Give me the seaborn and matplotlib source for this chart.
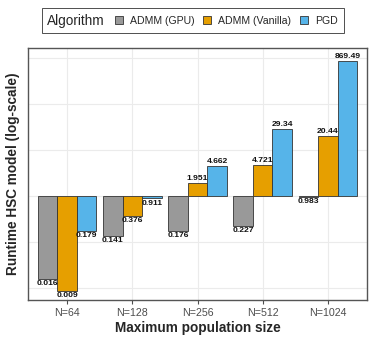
import numpy as np
import pandas as pd
import seaborn as sns
import matplotlib.pyplot as plt
from matplotlib.patches import Patch
from matplotlib.offsetbox import HPacker

# valores (tempo de execucao)
sizes = ["N=64", "N=128", "N=256", "N=512", "N=1024"]
algos = ["ADMM (GPU)", "ADMM (Vanilla)", "PGD"]
admm_gpu = [0.016, 0.141, 0.176, 0.227, 0.983]
admm_vanilla = [0.009, 0.376, 1.951, 4.721, 20.44]
pgd = [0.179, 0.911, 4.662, 29.34, 869.49]
labels_gpu = ["0.016", "0.141", "0.176", "0.227", "0.983"]
labels_vanilla = ["0.009", "0.376", "1.951", "4.721", "20.44"]
labels_pgd = ["0.179", "0.911", "4.662", "29.34", "869.49"]
cores = ["#999999", "#E69F00", "#56B4E9"]

linhas = []
for alg, vals, labs in zip(algos, [admm_gpu, admm_vanilla, pgd],
                           [labels_gpu, labels_vanilla, labels_pgd]):
    for s, v, l in zip(sizes, vals, labs):
        linhas.append([s, alg, v, l])
df = pd.DataFrame(linhas, columns=["Tamanho", "Algorithm", "Tempo", "Rotulo"])
df["LogTempo"] = np.log10(df["Tempo"])

sns.set_style("white")
plt.rcParams['font.family'] = ['Liberation Sans', 'DejaVu Sans']

fig = plt.figure(figsize=(3.74, 3.43), dpi=100)
ax = fig.add_axes([0.0749, 0.1254, 0.9064, 0.7346])

# grade (decadas no eixo log)
for g in range(-2, 4):
    ax.axhline(g, color="#EBEBEB", lw=0.8, zorder=0)
for i in range(len(sizes)):
    ax.axvline(i, color="#EBEBEB", lw=0.8, zorder=0)

sns.barplot(data=df, x="Tamanho", y="LogTempo", hue="Algorithm",
            order=sizes, hue_order=algos, palette=cores, width=0.9,
            edgecolor="#333333", linewidth=0.6, saturation=1,
            legend=False, ax=ax, zorder=2)

# rotulos de valor
larg = 0.3
for j, alg in enumerate(algos):
    sub = df[df["Algorithm"] == alg]
    for i, s in enumerate(sizes):
        row = sub[sub["Tamanho"] == s].iloc[0]
        xpos = i - 0.3 + j * larg
        lv = row["LogTempo"]
        if lv >= 0:
            ax.text(xpos, lv + 0.02, row["Rotulo"], ha="center", va="bottom",
                    fontsize=6.1, fontweight="bold", color="#111111", zorder=3)
        else:
            ax.text(xpos, lv - 0.03, row["Rotulo"], ha="center", va="top",
                    fontsize=6.1, fontweight="bold", color="#111111", zorder=3)

ax.set_xlim(-0.6, 4.6)
ax.set_ylim(-2.25, 3.22)
ax.set_yticks([])
ax.tick_params(axis="x", length=3, color="#4D4D4D", width=0.8, pad=3,
               labelsize=7.7, labelcolor="#4D4D4D", bottom=True)
ax.set_xlabel("Maximum population size", fontsize=9.8, fontweight="bold",
              labelpad=2)
ax.set_ylabel("Runtime HSC model (log-scale)", fontsize=9.8,
              fontweight="bold", labelpad=6)
for sp in ax.spines.values():
    sp.set_color("#555555")
    sp.set_linewidth(1.0)

# legenda horizontal com titulo na mesma linha
handles = [Patch(facecolor=c, edgecolor="#333333", linewidth=0.6) for c in cores]
leg = fig.legend(handles, algos, title="Algorithm", ncol=3,
                 loc="center", bbox_to_anchor=(0.515, 0.940),
                 fontsize=7.6, title_fontsize=9.8, frameon=True,
                 fancybox=False, edgecolor="black", handlelength=0.75,
                 handleheight=0.75, handletextpad=0.7, columnspacing=0.8,
                 borderpad=0.55)
leg.get_frame().set_linewidth(0.6)
vp = leg._legend_box
caixa_titulo, caixa_itens = vp.get_children()
vp._children = [HPacker(pad=0, sep=7, align="center",
                        children=[caixa_titulo, caixa_itens])]

fig.savefig("out.png", dpi=100)
